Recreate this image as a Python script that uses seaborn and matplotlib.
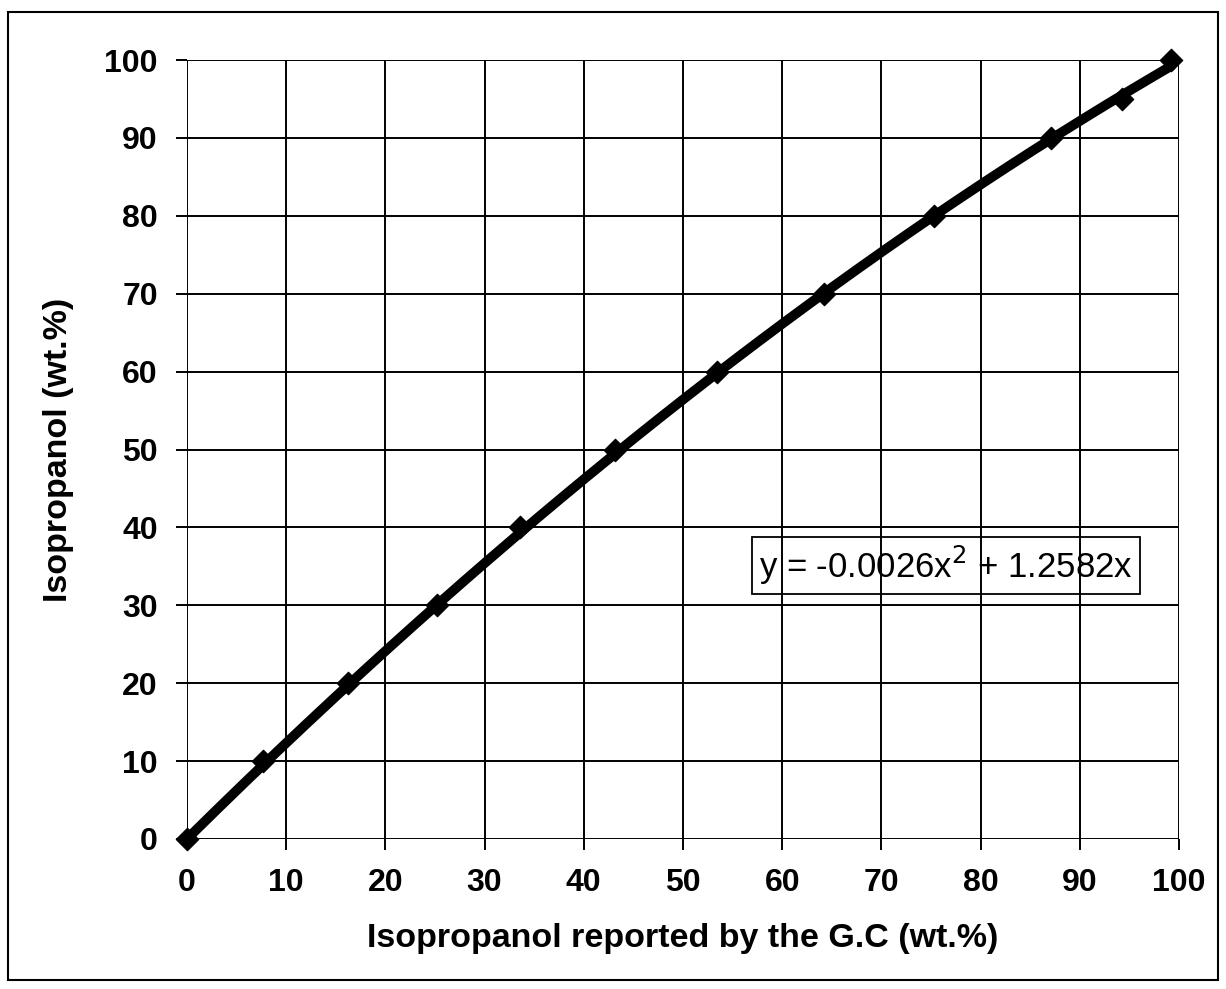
import numpy as np
import pandas as pd
import matplotlib
matplotlib.use("Agg")
import matplotlib.pyplot as plt
from matplotlib.patches import Rectangle
import seaborn as sns

# Calibration points: G.C reading vs. actual isopropanol content
gc_reported = [0, 7.7, 16.2, 25.2, 33.6, 43.1, 53.4, 64.2, 75.3, 87.1, 94.2, 99.2]
actual_wt = [0, 10, 20, 30, 40, 50, 60, 70, 80, 90, 95, 100]

# Polynomial trendline coefficients (through origin)
coef_a = -0.0026
coef_b = 1.2582

x_ticks = [0, 10, 20, 30, 40, 50, 60, 70, 80, 90, 100]
y_ticks = [0, 10, 20, 30, 40, 50, 60, 70, 80, 90, 100]

sns.set_style("white")
plt.rcParams["font.family"] = ["Liberation Sans", "DejaVu Sans"]
plt.rcParams["text.color"] = "black"
plt.rcParams["axes.labelcolor"] = "black"
plt.rcParams["xtick.color"] = "black"
plt.rcParams["ytick.color"] = "black"

fig = plt.figure(figsize=(12.26, 9.89), dpi=100)
ax = fig.add_axes([0.1525, 0.1517, 0.8092, 0.7876])

points = pd.DataFrame({"gc": gc_reported, "actual": actual_wt})
xs = np.linspace(0, max(gc_reported), 200)
trend = pd.DataFrame({"gc": xs, "actual": coef_a * xs**2 + coef_b * xs})

sns.lineplot(data=trend, x="gc", y="actual", ax=ax, color="black",
             linewidth=7, sort=False, zorder=3)
sns.scatterplot(data=points, x="gc", y="actual", ax=ax, marker="D",
                s=130, color="black", edgecolor="black", zorder=4,
                clip_on=False)

ax.set_xlim(0, 100)
ax.set_ylim(0, 100)
ax.set_xticks(x_ticks)
ax.set_yticks(y_ticks)
ax.grid(True, color="black", linewidth=1.4)
for s in ax.spines.values():
    s.set_visible(False)
ax.tick_params(axis="both", direction="out", length=8, width=1.4,
               color="black", labelcolor="black", labelsize=23, pad=13,
               bottom=True, left=True)
for lab in ax.get_xticklabels() + ax.get_yticklabels():
    lab.set_fontweight("bold")

ax.set_xlabel("Isopropanol reported by the G.C (wt.%)", fontsize=24.5,
              fontweight="bold", labelpad=18)
ax.set_ylabel("Isopropanol (wt.%)", fontsize=24.5, fontweight="bold",
              labelpad=22)

ax.text(57.7, 35.1, r"y = -0.0026x$^2$ + 1.2582x", fontsize=25,
        va="center", ha="left", zorder=5,
        bbox=dict(boxstyle="square,pad=0.2", facecolor="none",
                  edgecolor="black", linewidth=1.3))

# Chart frame
fig.patches.append(Rectangle((8 / 1226, 1 - 980 / 989), 1210 / 1226,
                             968 / 989, transform=fig.transFigure,
                             fill=False, edgecolor="black", linewidth=1.5))

fig.savefig("out.png", dpi=100)
